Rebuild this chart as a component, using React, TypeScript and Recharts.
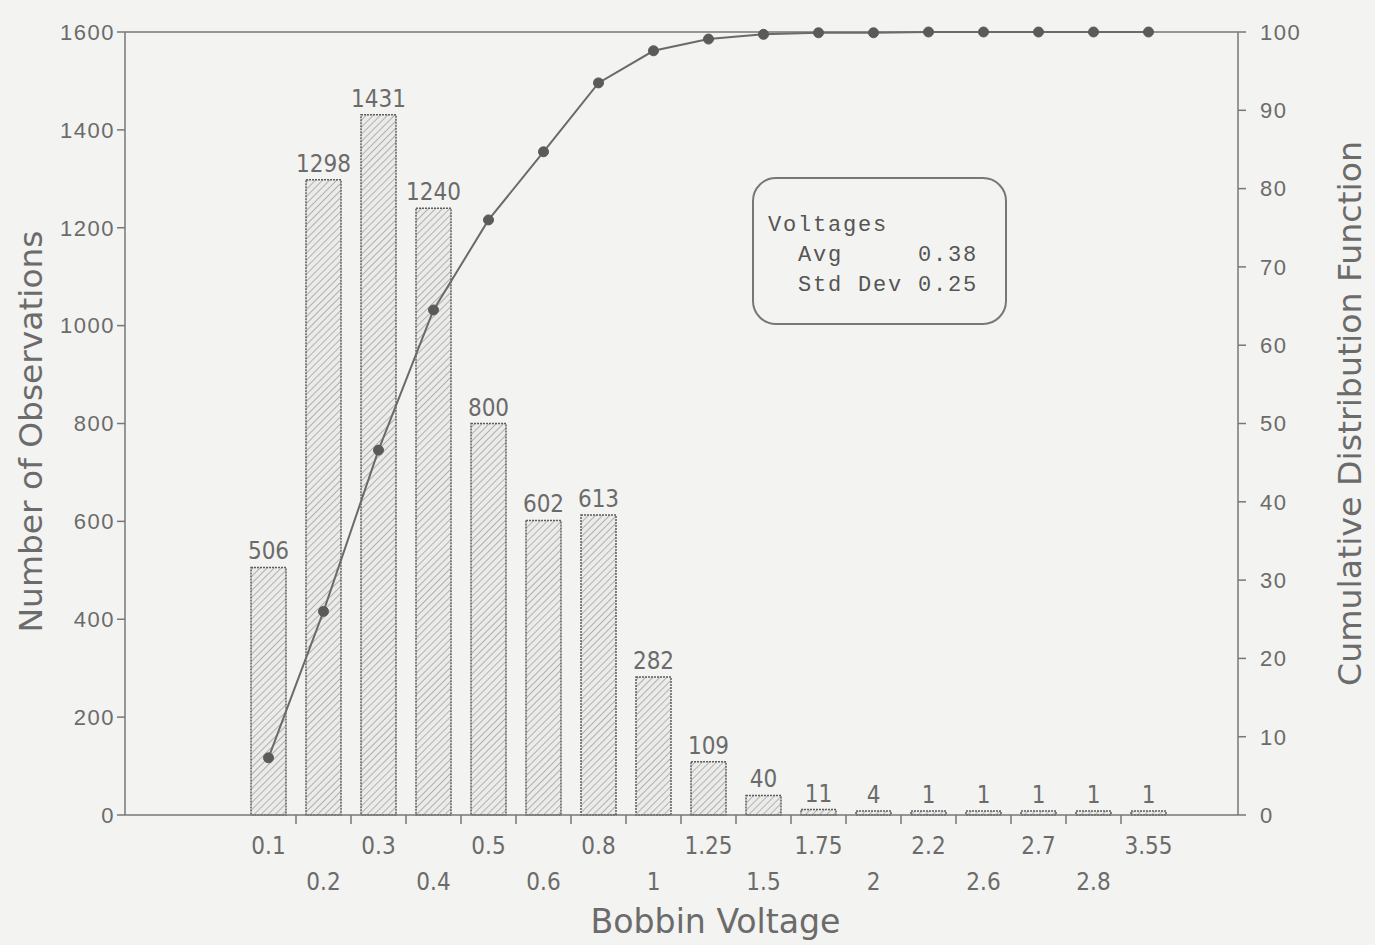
import { Bar, ComposedChart, LabelList, Line, ReferenceLine, XAxis, YAxis, Label } from "recharts"

const voltages = ["0.1", "0.2", "0.3", "0.4", "0.5", "0.6", "0.8", "1", "1.25", "1.5", "1.75", "2", "2.2", "2.6", "2.7", "2.8", "3.55"]
const observations = [506, 1298, 1431, 1240, 800, 602, 613, 282, 109, 40, 11, 4, 1, 1, 1, 1, 1]
const cumulative = [7.3, 26.0, 46.6, 64.5, 76.0, 84.7, 93.5, 97.6, 99.1, 99.7, 99.9, 99.9, 100, 100, 100, 100, 100]
const obsTicks = [0, 200, 400, 600, 800, 1000, 1200, 1400, 1600]
const cdfTicks = [0, 10, 20, 30, 40, 50, 60, 70, 80, 90, 100]

const data = voltages.map((v, i) => ({ voltage: v, obs: observations[i], cdf: cumulative[i] }))

const BG = "#f3f3f1"
const INK = "#6b6b6b"
const AXIS = "#777"
const NARROW = '"Liberation Sans Narrow", "DejaVu Sans Condensed", "Liberation Sans", sans-serif'
const WIDE = '"Liberation Sans", Arial, sans-serif'

function VoltageTick(props: any) {
  const { x, y, payload, index } = props
  const half = payload?.offset ?? 27.5
  const lower = index % 2 === 1
  return (
    <g>
      {index > 0 && (
        <line x1={x - half} x2={x - half} y1={y} y2={y + 9} stroke={AXIS} strokeWidth={1.5} />
      )}
      <text x={x} y={y + (lower ? 75 : 39)} textAnchor="middle" fill={INK} fontFamily={NARROW} fontSize={24}>
        {payload.value}
      </text>
    </g>
  )
}

// rotated axis title, stretched to the length it has in the scan
function SideTitle({ cx, cy, text, length }: { cx: number; cy: number; text: string; length: number }) {
  return (
    <text
      x={cx}
      y={cy}
      transform={`rotate(-90 ${cx} ${cy})`}
      textAnchor="middle"
      dominantBaseline="middle"
      fill={INK}
      fontFamily={NARROW}
      fontSize={32}
      textLength={length}
      lengthAdjust="spacingAndGlyphs"
    >
      {text}
    </text>
  )
}

export default function App() {
  return (
    <div style={{ width: 1375, height: 945, background: BG, position: "relative" }}>
      <style>{"body{margin:0}"}</style>
      <ComposedChart width={1375} height={945} data={data} margin={{ top: 32, right: 0, bottom: 0, left: 0 }}>
        <defs>
          <pattern id="hatch" patternUnits="userSpaceOnUse" width="5" height="5" patternTransform="rotate(45)">
            <rect width="5" height="5" fill="#ebebe9" />
            <line x1="0" y1="0" x2="0" y2="5" stroke="#9a9a9a" strokeWidth="1.4" />
          </pattern>
        </defs>
        <XAxis
          dataKey="voltage"
          xAxisId="x"
          interval={0}
          height={130}
          padding={{ left: 116, right: 62 }}
          tickLine={false}
          tickSize={0}
          tickMargin={0}
          stroke={AXIS}
          strokeWidth={1.5}
          tick={<VoltageTick />}
        >
          <Label
            content={({ viewBox }: any) => (
              <text
                x={viewBox.x + viewBox.width / 2 + 34}
                y={viewBox.y + 118}
                textAnchor="middle"
                fill={INK}
                fontFamily={NARROW}
                fontSize={33}
                textLength={250}
                lengthAdjust="spacingAndGlyphs"
              >
                Bobbin Voltage
              </text>
            )}
          />
        </XAxis>
        <YAxis
          yAxisId="left"
          orientation="left"
          width={125}
          domain={[0, 1600]}
          ticks={obsTicks}
          tickSize={8}
          tickMargin={2}
          stroke={AXIS}
          strokeWidth={1.5}
          tick={{ fill: INK, fontFamily: WIDE, fontSize: 22, letterSpacing: 1.5 }}
        >
          <Label
            content={({ viewBox }: any) => (
              <SideTitle
                cx={viewBox.x + 33}
                cy={viewBox.y + viewBox.height / 2 + 8}
                text="Number of Observations"
                length={402}
              />
            )}
          />
        </YAxis>
        <YAxis
          yAxisId="right"
          orientation="right"
          width={137}
          domain={[0, 100]}
          ticks={cdfTicks}
          tickSize={8}
          tickMargin={14}
          stroke={AXIS}
          strokeWidth={1.5}
          tick={{ fill: INK, fontFamily: WIDE, fontSize: 22, letterSpacing: 1.5 }}
        >
          <Label
            content={({ viewBox }: any) => (
              <SideTitle
                cx={viewBox.x + 114}
                cy={viewBox.y + viewBox.height / 2 - 10}
                text="Cumulative Distribution Function"
                length={545}
              />
            )}
          />
        </YAxis>
        <ReferenceLine yAxisId="left" xAxisId="x" y={1600} stroke={AXIS} strokeWidth={1.5} />
        <Bar
          dataKey="obs"
          xAxisId="x"
          yAxisId="left"
          barSize={35}
          minPointSize={4}
          fill="url(#hatch)"
          stroke="#5e5e5e"
          strokeWidth={1.5}
          strokeDasharray="2 1"
          isAnimationActive={false}
        >
          <LabelList dataKey="obs" position="top" offset={8} fill={INK} fontFamily={NARROW} fontSize={24} />
        </Bar>
        <Line
          dataKey="cdf"
          xAxisId="x"
          yAxisId="right"
          type="linear"
          stroke="#6a6a6a"
          strokeWidth={2}
          dot={{ r: 5, fill: "#5a5a5a", stroke: "#5a5a5a", strokeWidth: 1 }}
          activeDot={false}
          isAnimationActive={false}
        />
      </ComposedChart>
      <div
        style={{
          position: "absolute",
          left: 752,
          top: 177,
          width: 251,
          height: 144,
          border: "2px solid #777",
          borderRadius: 24,
          boxSizing: "content-box",
        }}
      >
        <pre
          style={{
            margin: 0,
            position: "absolute",
            left: 14,
            top: 32,
            fontFamily: '"Liberation Mono", "DejaVu Sans Mono", monospace',
            fontSize: 22,
            lineHeight: "30px",
            letterSpacing: 1.8,
            color: "#555",
            fontWeight: 500,
          }}
        >
          {"Voltages\n  Avg     0.38\n  Std Dev 0.25"}
        </pre>
      </div>
    </div>
  )
}
